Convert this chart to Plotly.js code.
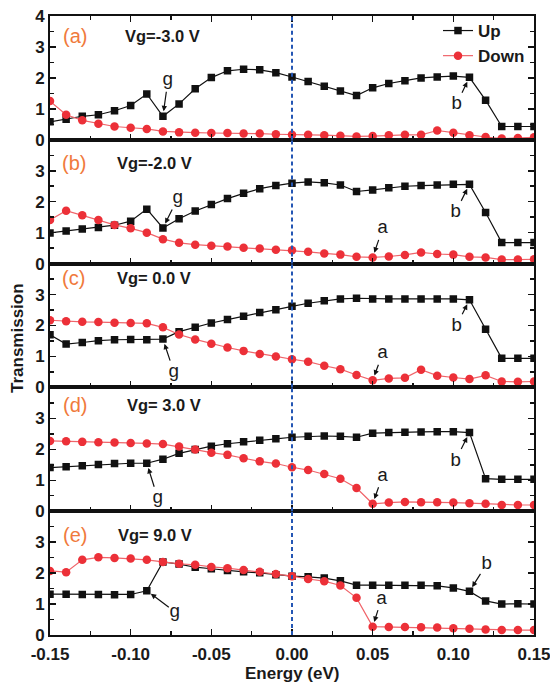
<!DOCTYPE html>
<html>
<head>
<meta charset="utf-8">
<script src="https://cdn.plot.ly/plotly-3.0.1.min.js"></script>
<style>html,body{margin:0;padding:0;background:#fff;}#chart{width:550px;height:686px;}</style>
</head>
<body>
<div id="chart"></div>
<script>
// ---------------- DATA ----------------
const energy = [-0.15,-0.14,-0.13,-0.12,-0.11,-0.10,-0.09,-0.08,-0.07,-0.06,-0.05,-0.04,-0.03,-0.02,-0.01,0.00,
                0.01,0.02,0.03,0.04,0.05,0.06,0.07,0.08,0.09,0.10,0.11,0.12,0.13,0.14,0.15];

const panelLetters = ['(a)','(b)','(c)','(d)','(e)'];
const gateLabels = ['Vg=-3.0 V','Vg=-2.0 V','Vg= 0.0 V','Vg= 3.0 V','Vg= 9.0 V'];
const seriesNames = ['Up','Down'];

const upA   = [0.58,0.66,0.76,0.81,0.94,1.11,1.48,0.76,1.16,1.65,2.01,2.23,2.28,2.26,2.17,2.03,1.88,1.73,1.58,1.43,1.68,1.82,1.91,2.00,2.03,2.06,2.02,1.28,0.43,0.43,0.43];
const downA = [1.25,0.81,0.63,0.52,0.43,0.39,0.35,0.27,0.24,0.23,0.22,0.22,0.20,0.20,0.18,0.16,0.16,0.15,0.13,0.11,0.12,0.15,0.16,0.16,0.30,0.23,0.15,0.09,0.04,0.06,0.08];

const upB   = [0.99,1.05,1.12,1.17,1.24,1.37,1.76,1.15,1.45,1.70,1.91,2.10,2.27,2.42,2.52,2.60,2.64,2.61,2.54,2.33,2.38,2.45,2.50,2.52,2.54,2.56,2.56,1.65,0.68,0.68,0.68];
const downB = [1.41,1.71,1.56,1.41,1.25,1.14,1.00,0.79,0.67,0.61,0.58,0.55,0.51,0.49,0.45,0.43,0.38,0.33,0.29,0.22,0.20,0.23,0.28,0.36,0.31,0.29,0.22,0.20,0.13,0.13,0.14];

const upC   = [1.70,1.40,1.45,1.51,1.54,1.55,1.54,1.56,1.80,1.94,2.08,2.19,2.30,2.42,2.51,2.62,2.72,2.80,2.86,2.88,2.86,2.86,2.86,2.86,2.86,2.86,2.83,1.88,0.94,0.94,0.94];
const downC = [2.17,2.14,2.12,2.11,2.09,2.08,2.07,1.94,1.71,1.55,1.41,1.29,1.18,1.08,1.00,0.91,0.83,0.70,0.59,0.40,0.23,0.29,0.31,0.57,0.38,0.32,0.27,0.39,0.19,0.18,0.19];

const upD   = [1.41,1.44,1.47,1.51,1.54,1.55,1.55,1.68,1.87,1.99,2.10,2.18,2.24,2.29,2.34,2.39,2.42,2.43,2.42,2.39,2.52,2.54,2.55,2.56,2.57,2.57,2.54,1.05,1.03,1.03,1.03];
const downD = [2.27,2.26,2.24,2.23,2.22,2.20,2.19,2.17,2.09,1.99,1.89,1.82,1.71,1.61,1.54,1.42,1.33,1.20,1.05,0.75,0.24,0.28,0.30,0.29,0.29,0.28,0.26,0.24,0.20,0.20,0.20];

const upE   = [1.32,1.32,1.31,1.31,1.30,1.31,1.43,2.36,2.29,2.19,2.14,2.08,2.04,2.01,1.95,1.90,1.88,1.84,1.75,1.61,1.61,1.61,1.61,1.61,1.59,1.52,1.41,1.10,1.00,1.01,1.00];
const downE = [2.07,2.03,2.43,2.51,2.49,2.47,2.43,2.36,2.30,2.27,2.20,2.16,2.10,2.04,1.97,1.90,1.81,1.74,1.60,1.20,0.27,0.26,0.26,0.25,0.24,0.22,0.20,0.18,0.16,0.16,0.16];

const upSeries = [upA, upB, upC, upD, upE];
const downSeries = [downA, downB, downC, downD, downE];

const xTickVals = [-0.15,-0.10,-0.05,0.00,0.05,0.10,0.15];
const xTickText = ['-0.15','-0.10','-0.05','0.00','0.05','0.10','0.15'];
const yTickValsTop = [0,1,2,3,4];
const yTickValsOther = [0,1,2,3];

// annotation markers: [panel, label, which series ('up'/'down'), point index]
const markNotes = [
  [0,'g','up',7],[0,'b','up',26],
  [1,'g','up',7],[1,'b','up',26],[1,'a','down',20],
  [2,'g','up',7],[2,'b','up',26],[2,'a','down',20],
  [3,'g','up',6],[3,'b','up',26],[3,'a','down',20],
  [4,'g','up',6],[4,'b','up',26],[4,'a','down',20]
];
// label offsets in pixels (style only)
const noteOffsets = [
  [5,-36],[-13,27],
  [15,-30],[-14,28],[10,-29],
  [11,33],[-13,26],[10,-27],
  [11,35],[-14,28],[10,-28],
  [28,21],[17,-27],[9,-28]
];

// ---------------- STYLE ----------------
const W = 550, H = 686;
const M = {l:50, r:16, t:16, b:51};
const plotH = H - M.t - M.b;
const pyPaper = px => (H - M.b - px) / plotH;
const pxPaperX = px => (px - M.l) / (W - M.l - M.r);

const boldFont = {family:'Liberation Sans, Arial, Helvetica, sans-serif', size:17, color:'#1a1a1a', weight:700};
const black = '#111111';
const redMarker = '#ec3038';
const redLine = '#f0646a';
const orange = '#f07a3c';

const labelY = [36, 163, 278, 405, 535];
const letterX = [61, 60, 60, 61, 61];
const gateX = [123, 115, 115, 125, 116];

const traces = [];
const layout = {
  width: W, height: H,
  margin: M,
  paper_bgcolor: '#fff', plot_bgcolor: '#fff',
  showlegend: true,
  legend: {
    x: pxPaperX(438), y: pyPaper(13), xanchor:'left', yanchor:'top',
    bgcolor:'rgba(0,0,0,0)', borderwidth:0,
    font: {family:'Liberation Sans, Arial, sans-serif', size:17, color:'#1a1a1a', weight:700},
    tracegroupgap: 0, itemwidth: 30
  },
  annotations: [],
  shapes: []
};

for (let p = 0; p < 5; p++) {
  const xa = 'x' + (p === 0 ? '' : (p + 1));
  const ya = 'y' + (p === 0 ? '' : (p + 1));
  const xKey = 'xaxis' + (p === 0 ? '' : (p + 1));
  const yKey = 'yaxis' + (p === 0 ? '' : (p + 1));
  const isBottom = (p === 4);
  const isTop = (p === 0);

  traces.push({
    x: energy, y: upSeries[p], xaxis: xa, yaxis: ya,
    type: 'scatter', mode: 'lines+markers', name: seriesNames[0],
    showlegend: isTop, legendgroup: 'up',
    line: {color: black, width: 1.2},
    marker: {symbol: 'square', size: 7.5, color: black}
  });
  traces.push({
    x: energy, y: downSeries[p], xaxis: xa, yaxis: ya,
    type: 'scatter', mode: 'lines+markers', name: seriesNames[1],
    showlegend: isTop, legendgroup: 'down',
    line: {color: redLine, width: 1.2},
    marker: {symbol: 'circle', size: 8.5, color: redMarker}
  });

  layout[xKey] = {
    domain: [0, 1], anchor: ya,
    range: [-0.15, 0.15],
    tickmode: 'array', tickvals: xTickVals, ticktext: xTickText,
    showticklabels: isBottom,
    ticklabeloverflow: 'allow',
    ticklabelstandoff: 3,
    ticks: 'inside', ticklen: 6, tickwidth: 1.5, tickcolor: '#111',
    minor: {tickmode:'linear', tick0: 0, dtick: 0.025, ticks:'inside', ticklen: 4, tickwidth: 1.5, tickcolor:'#111'},
    showline: true, linecolor: '#111', linewidth: 2,
    mirror: isTop ? 'ticks' : true,
    showgrid: false, zeroline: false,
    tickfont: boldFont
  };
  if (!isBottom) layout[xKey].matches = 'x5';
  layout[yKey] = {
    domain: [1 - (p + 1) * 0.2, 1 - p * 0.2], anchor: xa,
    range: [0, 4],
    tickmode: 'array', tickvals: isTop ? yTickValsTop : yTickValsOther,
    ticks: 'inside', ticklen: 6, tickwidth: 1.5, tickcolor: '#111',
    minor: {tickmode:'linear', tick0: 0, dtick: 0.5, ticks:'inside', ticklen: 4, tickwidth: 1.5, tickcolor:'#111'},
    showline: true, linecolor: '#111', linewidth: 2,
    mirror: 'ticks',
    showgrid: false, zeroline: false,
    tickfont: boldFont
  };

  layout.annotations.push({
    xref:'paper', yref:'paper', x: pxPaperX(letterX[p]), y: pyPaper(labelY[p]),
    xanchor:'left', yanchor:'middle', showarrow:false,
    text: panelLetters[p],
    font: {family:'Liberation Sans, Arial, sans-serif', size:20, color: orange}
  });
  layout.annotations.push({
    xref:'paper', yref:'paper', x: pxPaperX(gateX[p]), y: pyPaper(labelY[p]),
    xanchor:'left', yanchor:'middle', showarrow:false,
    text: gateLabels[p],
    font: {family:'Liberation Sans, Arial, sans-serif', size:16.5, color:'#1a1a1a', weight:700}
  });

  layout.shapes.push({
    type:'line', xref: xa, yref: ya + ' domain', x0: 0, x1: 0, y0: 0, y1: 1,
    line: {color:'#2456b4', width: 2, dash: '4px,3px'}, layer: 'above'
  });
}

markNotes.forEach((n, k) => {
  const [p, lab, which, idx] = n;
  const xa = 'x' + (p === 0 ? '' : (p + 1));
  const ya = 'y' + (p === 0 ? '' : (p + 1));
  const series = which === 'up' ? upSeries[p] : downSeries[p];
  layout.annotations.push({
    xref: xa, yref: ya, x: energy[idx], y: series[idx],
    text: lab, showarrow: true, arrowhead: 2, arrowsize: 0.9, arrowwidth: 1.2, arrowcolor: '#111',
    ax: noteOffsets[k][0], ay: noteOffsets[k][1], standoff: 5, startstandoff: 0,
    borderpad: 0,
    font: {family:'Liberation Mono, Courier New, monospace', size:19, color:'#1a1a1a'}
  });
});

layout.annotations.push({
  xref:'paper', yref:'paper', x: pxPaperX(17), y: pyPaper(338), xanchor:'center', yanchor:'middle',
  textangle: -90, showarrow:false, text:'Transmission',
  font: {family:'Liberation Sans, Arial, sans-serif', size:17, color:'#1a1a1a', weight:700}
});
layout.annotations.push({
  xref:'paper', yref:'paper', x: pxPaperX(292), y: pyPaper(673), xanchor:'center', yanchor:'middle',
  showarrow:false, text:'Energy (eV)',
  font: {family:'Liberation Sans, Arial, sans-serif', size:17, color:'#1a1a1a', weight:700}
});

Plotly.newPlot('chart', traces, layout, {displayModeBar:false, staticPlot:true});
</script>
</body>
</html>
